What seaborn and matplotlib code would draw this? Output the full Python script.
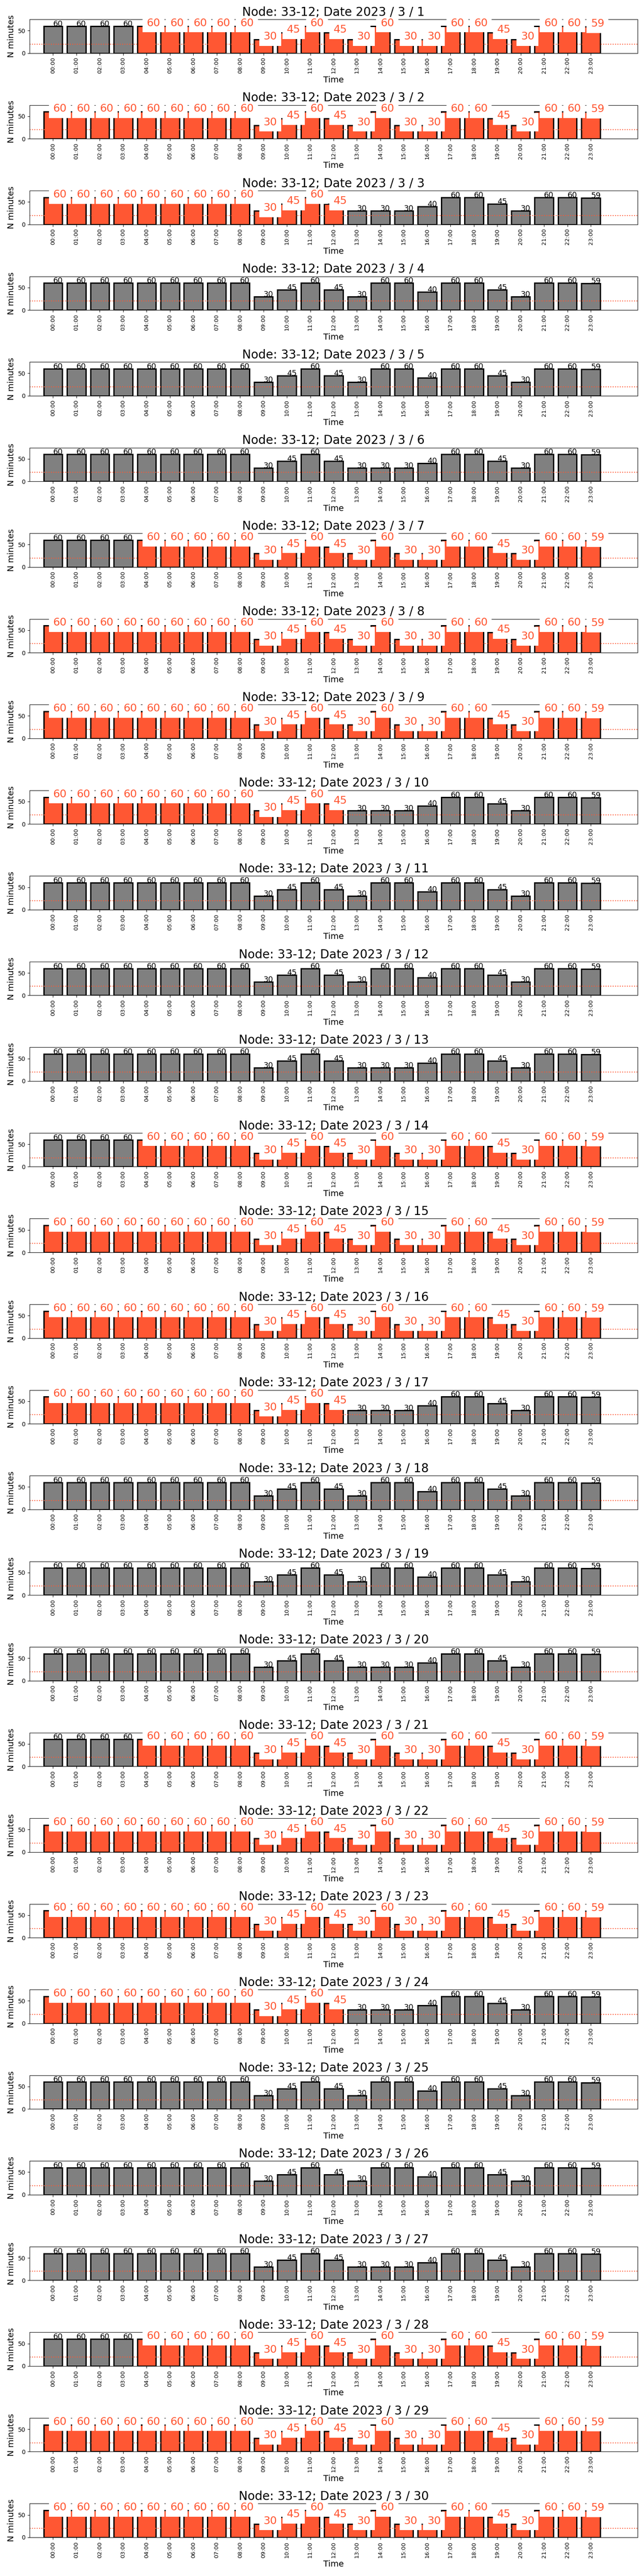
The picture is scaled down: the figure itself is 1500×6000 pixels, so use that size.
import matplotlib
matplotlib.use("Agg")
import matplotlib.pyplot as plt
import seaborn as sns
import pandas as pd

hours = ["00:00", "01:00", "02:00", "03:00", "04:00", "05:00", "06:00", "07:00",
         "08:00", "09:00", "10:00", "11:00", "12:00", "13:00", "14:00", "15:00",
         "16:00", "17:00", "18:00", "19:00", "20:00", "21:00", "22:00", "23:00"]

# minutes per hour for the three kinds of day seen in the month
weekday_minutes = [60, 60, 60, 60, 60, 60, 60, 60, 60, 30, 45, 60, 45, 30, 60, 30, 30, 60, 60, 45, 30, 60, 60, 59]
monday_minutes = [60, 60, 60, 60, 60, 60, 60, 60, 60, 30, 45, 60, 45, 30, 30, 30, 40, 60, 60, 45, 30, 60, 60, 59]
weekend_minutes = [60, 60, 60, 60, 60, 60, 60, 60, 60, 30, 45, 60, 45, 30, 60, 60, 40, 60, 60, 45, 30, 60, 60, 59]

days = [1, 2, 3, 4, 5, 6, 7, 8, 9, 10, 11, 12, 13, 14, 15,
        16, 17, 18, 19, 20, 21, 22, 23, 24, 25, 26, 27, 28, 29, 30]
day_kind = ["wd", "wd", "mon", "we", "we", "mon", "wd", "wd", "wd", "mon",
            "we", "we", "mon", "wd", "wd", "wd", "mon", "we", "we", "mon",
            "wd", "wd", "wd", "mon", "we", "we", "mon", "wd", "wd", "wd"]
# highlighted (orange) hour range per day, None = nothing highlighted
hl_first = [4, 0, 0, None, None, None, 4, 0, 0, 0, None, None, None, 4, 0,
            0, 0, None, None, None, 4, 0, 0, 0, None, None, None, 4, 0, 0]
hl_last = [23, 23, 12, None, None, None, 23, 23, 23, 12, None, None, None, 23, 23,
           23, 12, None, None, None, 23, 23, 23, 12, None, None, None, 23, 23, 23]

threshold = 20
node = "33-12"

ORANGE = "#FF5733"
GREY = "#808080"
kinds = {"wd": weekday_minutes, "mon": monday_minutes, "we": weekend_minutes}

fig, axes = plt.subplots(30, 1, figsize=(15, 60), dpi=100)
fig.subplots_adjust(left=0.046, right=0.99, top=0.9925, bottom=0.015, hspace=1.54)

for k, ax in enumerate(axes):
    vals = kinds[day_kind[k]]
    hl = []
    for i in range(len(hours)):
        on = hl_first[k] is not None and hl_first[k] <= i <= hl_last[k]
        hl.append("hl" if on else "no")
    df = pd.DataFrame({"hour": hours, "minutes": vals, "hl": hl})

    sns.barplot(data=df, x="hour", y="minutes", hue="hl", order=hours,
                hue_order=["no", "hl"], palette={"no": GREY, "hl": ORANGE},
                dodge=False, saturation=1, edgecolor="black", linewidth=2.2,
                legend=False, ax=ax)
    ax.axhline(threshold, color=ORANGE, linestyle=":", linewidth=1.5)

    # value labels, the highlighted ones bigger on a white box
    for i, (v, h) in enumerate(zip(vals, hl)):
        if h == "hl":
            ax.text(i, v, str(v), fontsize=18, color=ORANGE,
                    bbox=dict(facecolor="white", edgecolor="none", pad=7))
        else:
            ax.text(i, v, str(v), fontsize=13, color="black")

    ax.set_xlim(-1, 25)
    ax.set_ylim(0, 75)
    ax.set_yticks([0, 50])
    ax.tick_params(axis="x", labelrotation=90, labelsize=9.5)
    ax.tick_params(axis="y", labelsize=10)
    ax.set_xlabel("Time", fontsize=14)
    ax.set_ylabel("N minutes", fontsize=14)
    ax.set_title("Node: {}; Date 2023 / 3 / {}".format(node, days[k]), fontsize=20)

fig.savefig("out.png", dpi=100)
